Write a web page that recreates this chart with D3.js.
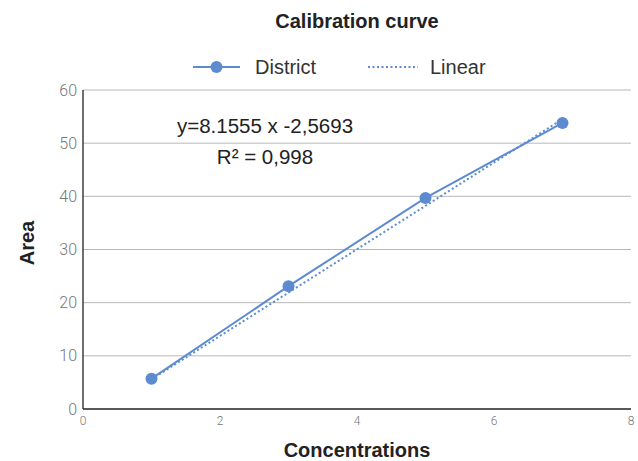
<!DOCTYPE html>
<html>
<head>
<meta charset="utf-8">
<script src="https://cdn.jsdelivr.net/npm/d3@7"></script>
<style>
  body { margin: 0; background: #fff; }
  svg { display: block; }
</style>
</head>
<body>
<div id="chart"></div>
<script>
// values
const concentrations = [1, 3, 5, 7];
const areas = [5.7, 23.1, 39.7, 53.8];
const slope = 8.1555;
const intercept = -2.5693;
const xTicks = [0, 2, 4, 6, 8];
const yTicks = [0, 10, 20, 30, 40, 50, 60];
const seriesNames = ["District", "Linear"];

const width = 638;
const height = 461;
const margin = {top: 90, right: 7, bottom: 52, left: 83};
const blue = "#5c8bd0";
const font = "Liberation Sans, Arial, sans-serif";

const svg = d3.select("#chart")
    .append("svg")
    .attr("width", width)
    .attr("height", height);

const x = d3.scaleLinear()
    .domain([0, 8])
    .range([margin.left, width - margin.right]);
const y = d3.scaleLinear()
    .domain([0, 60])
    .range([height - margin.bottom, margin.top]);

// grid
svg.append("g")
    .selectAll("line")
    .data(yTicks.filter(d => d > 0))
    .join("line")
    .attr("x1", x(0))
    .attr("x2", x(8))
    .attr("y1", d => y(d))
    .attr("y2", d => y(d))
    .attr("stroke", "#b8b8b8")
    .attr("stroke-width", 1);

// axes lines
svg.append("line")
    .attr("x1", x(0)).attr("x2", x(8))
    .attr("y1", y(0)).attr("y2", y(0))
    .attr("stroke", "#222").attr("stroke-width", 1.3);
svg.append("line")
    .attr("x1", x(0)).attr("x2", x(0))
    .attr("y1", y(0)).attr("y2", y(60))
    .attr("stroke", "#222").attr("stroke-width", 1.3);

// tick labels
svg.append("g")
    .attr("font-family", "Roboto, sans-serif")
    .attr("font-weight", 300)
    .attr("font-size", 16)
    .attr("fill", "#777")
    .attr("text-anchor", "end")
    .selectAll("text")
    .data(yTicks)
    .join("text")
    .attr("x", x(0) - 6)
    .attr("y", d => y(d))
    .attr("dy", "0.35em")
    .text(d => d);

svg.append("g")
    .attr("font-family", "Roboto, sans-serif")
    .attr("font-weight", 300)
    .attr("font-size", 12)
    .attr("fill", "#777")
    .attr("text-anchor", "middle")
    .selectAll("text")
    .data(xTicks)
    .join("text")
    .attr("x", d => x(d))
    .attr("y", y(0) + 16)
    .text(d => d);

// trendline
const trend = d3.line()
    .x(d => x(d))
    .y(d => y(slope * d + intercept));
svg.append("path")
    .datum([concentrations[0], concentrations[concentrations.length - 1]])
    .attr("fill", "none")
    .attr("stroke", blue)
    .attr("stroke-width", 2)
    .attr("stroke-dasharray", "2,2.5")
    .attr("d", trend);

// series
const pts = concentrations.map((c, i) => ({c, a: areas[i]}));
svg.append("path")
    .datum(pts)
    .attr("fill", "none")
    .attr("stroke", blue)
    .attr("stroke-width", 2)
    .attr("d", d3.line().x(d => x(d.c)).y(d => y(d.a)));
svg.append("g")
    .selectAll("circle")
    .data(pts)
    .join("circle")
    .attr("cx", d => x(d.c))
    .attr("cy", d => y(d.a))
    .attr("r", 6)
    .attr("fill", blue);

// title
svg.append("text")
    .attr("x", 357).attr("y", 28)
    .attr("text-anchor", "middle")
    .attr("font-family", font)
    .attr("font-weight", "bold")
    .attr("font-size", 20)
    .attr("fill", "#222")
    .text("Calibration curve");

// legend
const legend = svg.append("g")
    .attr("font-family", font)
    .attr("font-size", 20)
    .attr("fill", "#333");
legend.append("line")
    .attr("x1", 193).attr("x2", 240).attr("y1", 67).attr("y2", 67)
    .attr("stroke", blue).attr("stroke-width", 2);
legend.append("circle")
    .attr("cx", 216.5).attr("cy", 67).attr("r", 6).attr("fill", blue);
legend.append("text").attr("x", 255).attr("y", 67).attr("dy", "0.35em").text(seriesNames[0]);
legend.append("line")
    .attr("x1", 368).attr("x2", 418).attr("y1", 67).attr("y2", 67)
    .attr("stroke", blue).attr("stroke-width", 2).attr("stroke-dasharray", "2,2.5");
legend.append("text").attr("x", 430).attr("y", 67).attr("dy", "0.35em").text(seriesNames[1]);

// equation
const eq = svg.append("g")
    .attr("font-family", font)
    .attr("font-size", 20.5)
    .attr("fill", "#222")
    .attr("text-anchor", "middle");
eq.append("text").attr("x", 265).attr("y", 133).text("y=8.1555 x -2,5693");
eq.append("text").attr("x", 265).attr("y", 164).text("R² = 0,998");

// axis titles
svg.append("text")
    .attr("x", 357).attr("y", 457)
    .attr("text-anchor", "middle")
    .attr("font-family", font)
    .attr("font-weight", "bold")
    .attr("font-size", 20)
    .attr("fill", "#222")
    .text("Concentrations");
svg.append("text")
    .attr("transform", "translate(34,243) rotate(-90)")
    .attr("text-anchor", "middle")
    .attr("font-family", font)
    .attr("font-weight", "bold")
    .attr("font-size", 20)
    .attr("fill", "#222")
    .text("Area");
</script>
</body>
</html>
